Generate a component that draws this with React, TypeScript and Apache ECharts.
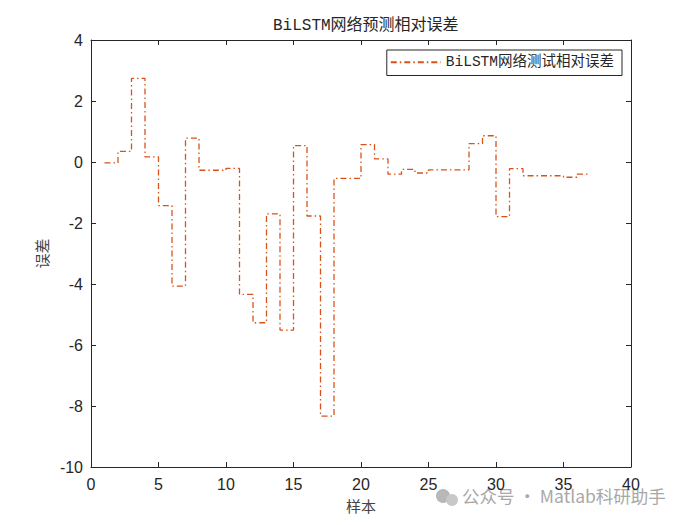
import React, { useEffect, useRef } from "react";
import * as echarts from "echarts";

// Sample index and relative error of the BiLSTM test set
const sampleIndex: number[] = Array.from({ length: 37 }, (_, i) => i + 1);
const relativeError: number[] = [
  -0.03, 0.35, 2.74, 0.17, -1.43, -4.07, 0.78, -0.27, -0.27, -0.21,
  -4.34, -5.27, -1.7, -5.51, 0.54, -1.77, -8.33, -0.54, -0.54, 0.57,
  0.1, -0.4, -0.24, -0.36, -0.26, -0.26, -0.26, 0.6, 0.86, -1.79,
  -0.22, -0.45, -0.45, -0.45, -0.5, -0.4, -0.4,
];

const titleText = "BiLSTM网络预测相对误差";
const seriesName = "BiLSTM网络测试相对误差";
const xName = "样本";
const yName = "误差";
const watermark = "公众号 · Matlab科研助手";

const AXIS_COLOR = "#262626";
const LINE_COLOR = "#D95319";
const MONO_CJK = "'Liberation Mono', 'Noto Sans CJK SC', monospace";
const SANS = "'Liberation Sans', Arial, sans-serif";

export default function App() {
  const ref = useRef<HTMLDivElement>(null);

  useEffect(() => {
    if (!ref.current) return;
    const chart = echarts.init(ref.current, undefined, { renderer: "svg" });

    const xBase = {
      type: "value" as const,
      min: 0,
      max: 40,
      interval: 5,
      splitLine: { show: false },
      axisLine: { show: true, onZero: false, lineStyle: { color: AXIS_COLOR, width: 1 } },
      axisTick: { show: true, inside: true, length: 5, lineStyle: { color: AXIS_COLOR } },
    };
    const yBase = {
      type: "value" as const,
      min: -10,
      max: 4,
      interval: 2,
      splitLine: { show: false },
      axisLine: { show: true, onZero: false, lineStyle: { color: AXIS_COLOR, width: 1 } },
      axisTick: { show: true, inside: true, length: 5, lineStyle: { color: AXIS_COLOR } },
    };

    chart.setOption({
      animation: false,
      backgroundColor: "#ffffff",
      title: {
        text: titleText,
        left: 260,
        top: 5,
        textStyle: {
          fontFamily: MONO_CJK,
          fontSize: 16,
          fontWeight: "normal",
          color: AXIS_COLOR,
        },
      },
      legend: {
        data: [seriesName],
        right: 86,
        top: 42,
        padding: [5, 8, 6, 3],
        itemWidth: 50,
        itemHeight: 14,
        itemGap: 4,
        borderColor: AXIS_COLOR,
        borderWidth: 1,
        borderRadius: 0,
        backgroundColor: "#ffffff",
        itemStyle: { opacity: 0 },
        textStyle: { fontFamily: MONO_CJK, fontSize: 14.5, color: AXIS_COLOR },
      },
      grid: { left: 83, top: 32, width: 540, height: 427, containLabel: false },
      xAxis: [
        {
          ...xBase,
          position: "bottom",
          name: xName,
          nameLocation: "middle",
          nameGap: 31,
          nameTextStyle: { fontFamily: "'Noto Sans CJK SC'", fontSize: 15, color: "#444444" },
          axisLabel: { show: true, margin: 9, fontFamily: SANS, fontSize: 16, color: AXIS_COLOR },
        },
        { ...xBase, position: "top", axisLabel: { show: false } },
      ],
      yAxis: [
        {
          ...yBase,
          position: "left",
          name: yName,
          nameLocation: "middle",
          nameGap: 38,
          nameRotate: 90,
          nameTextStyle: { fontFamily: "'Noto Sans CJK SC'", fontSize: 15, color: "#444444" },
          axisLabel: { show: true, margin: 8, fontFamily: SANS, fontSize: 16, color: AXIS_COLOR },
        },
        { ...yBase, position: "right", axisLabel: { show: false } },
      ],
      series: [
        {
          name: seriesName,
          type: "line",
          step: "end",
          xAxisIndex: 0,
          yAxisIndex: 0,
          symbol: "none",
          data: sampleIndex.map((x, i) => [x, relativeError[i]]),
          lineStyle: { color: LINE_COLOR, width: 1.3, type: [6, 3, 1.5, 3] },
          itemStyle: { color: LINE_COLOR },
        },
      ],
      graphic: [
        {
          type: "group",
          left: 428,
          top: 479,
          silent: true,
          children: [
            { type: "circle", shape: { cx: 8, cy: 9, r: 7 }, style: { fill: "#b8b8b8" } },
            { type: "circle", shape: { cx: 17, cy: 13, r: 6 }, style: { fill: "#c8c8c8" } },
            {
              type: "text",
              x: 27,
              y: 0,
              style: {
                text: watermark,
                fontFamily: "'Noto Sans CJK SC', 'Noto Sans', sans-serif",
                fontSize: 17.5,
                fill: "#a8a8a8",
              },
            },
          ],
        },
      ],
    });

    return () => chart.dispose();
  }, []);

  return <div ref={ref} style={{ width: 700, height: 525 }} />;
}
